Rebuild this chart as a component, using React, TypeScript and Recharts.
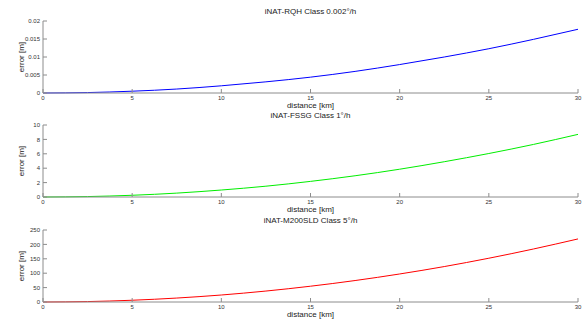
import React from 'react';
import { LineChart, Line, XAxis, YAxis, Label } from 'recharts';

// distance along track [km]
const distanceKm = [0, 2.5, 5, 7.5, 10, 12.5, 15, 17.5, 20, 22.5, 25, 27.5, 30];

// position error [m]
const rqhError = [0, 0.00012, 0.0005, 0.0011, 0.002, 0.0031, 0.0044, 0.006, 0.0079, 0.01, 0.0123, 0.0149, 0.0177];
const fssgError = [0, 0.06, 0.24, 0.54, 0.97, 1.5, 2.17, 2.95, 3.86, 4.9, 6.04, 7.3, 8.7];
const m200Error = [0, 1.5, 6.1, 13.7, 24.3, 38, 54.8, 74.5, 97.3, 123, 152, 184, 219];

const xTicks = [0, 5, 10, 15, 20, 25, 30];
const rqhTicks = [0, 0.005, 0.01, 0.015, 0.02];
const fssgTicks = [0, 2, 4, 6, 8, 10];
const m200Ticks = [0, 50, 100, 150, 200, 250];

const FONT = '"Liberation Sans", Arial, sans-serif';
const AXIS = '#8c8c8c';
const TEXT = '#333';

const noLabel = () => <g />;

interface PanelProps {
  top: number;
  height: number;
  marginTop: number;
  title: string;
  values: number[];
  yTicks: number[];
  color: string;
}

function Panel({ top, height, marginTop, title, values, yTicks, color }: PanelProps) {
  const data = distanceKm.map((d, i) => ({ d, v: values[i] }));
  const yMax = yTicks[yTicks.length - 1];
  const plotBottom = height - 18;
  const tickStyle = { fontSize: 6, fill: TEXT, fontFamily: FONT };
  const textBox = {
    position: 'absolute' as const, left: 43, width: 535, textAlign: 'center' as const,
    fontSize: 8, fontFamily: FONT, color: '#222', lineHeight: '10px', whiteSpace: 'nowrap' as const,
  };
  return (
    <div style={{ position: 'absolute', left: 0, top, width: 588, height }}>
      <LineChart width={588} height={height} data={data} margin={{ top: marginTop, right: 10, bottom: 0, left: 0 }}>
        <XAxis
          dataKey="d" type="number" domain={[0, 30]} ticks={xTicks} interval={0}
          stroke={AXIS} tickSize={-4} tickMargin={7} height={18} tick={tickStyle}
        />
        <XAxis
          xAxisId="top" orientation="top" dataKey="d" type="number" domain={[0, 30]} ticks={xTicks}
          stroke={AXIS} tickSize={-4} height={0} tick={noLabel}
        />
        <YAxis
          type="number" domain={[0, yMax]} ticks={yTicks} interval={0} width={43}
          stroke={AXIS} tickSize={-4} tickMargin={7} tick={tickStyle}
        >
          <Label value="error [m]" angle={-90} position="insideLeft" offset={21} style={{ fontSize: 8, fill: '#222', fontFamily: FONT, textAnchor: 'middle' }} />
        </YAxis>
        <YAxis
          yAxisId="right" orientation="right" type="number" domain={[0, yMax]} ticks={yTicks}
          width={0} stroke={AXIS} tickSize={-4} tick={noLabel}
        />
        <Line
          type="monotone" dataKey="v" stroke={color} strokeWidth={1} dot={false}
          isAnimationActive={false}
        />
      </LineChart>
      <div style={{ ...textBox, top: marginTop - 14 }}>{title}</div>
      <div style={{ ...textBox, top: plotBottom + 8 }}>distance [km]</div>
    </div>
  );
}

export default function App() {
  return (
    <div style={{ position: 'absolute', left: 0, top: 0, width: 588, height: 320, background: '#fff', overflow: 'hidden' }}>
      <Panel top={0} height={111} marginTop={21} title="iNAT-RQH Class 0.002°/h" values={rqhError} yTicks={rqhTicks} color="#0000ff" />
      <Panel top={111} height={104} marginTop={14} title="iNAT-FSSG Class 1°/h" values={fssgError} yTicks={fssgTicks} color="#00ee00" />
      <Panel top={215} height={105} marginTop={15} title="iNAT-M200SLD Class 5°/h" values={m200Error} yTicks={m200Ticks} color="#ff0000" />
    </div>
  );
}
